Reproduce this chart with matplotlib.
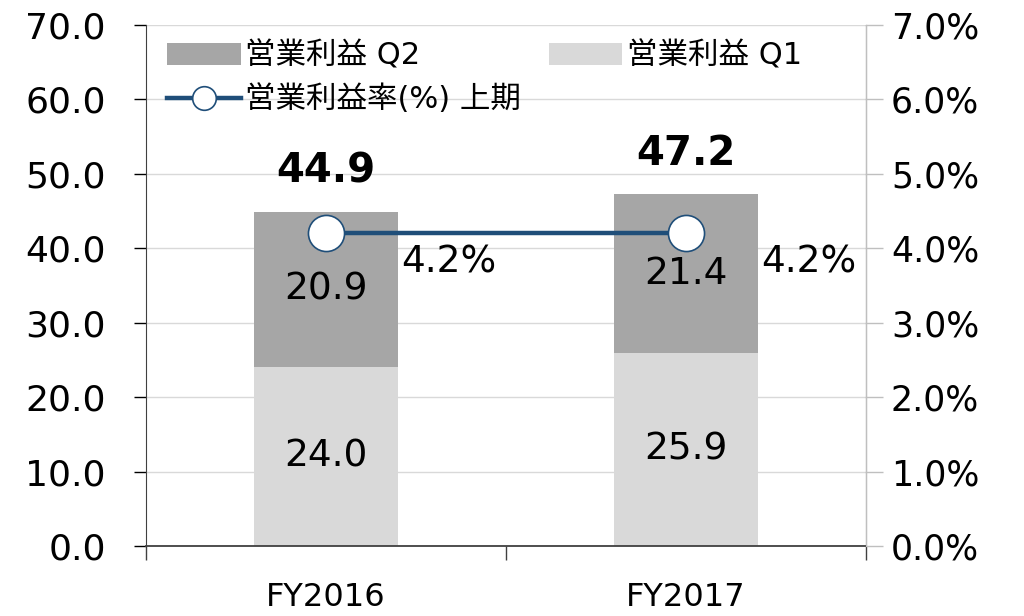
import numpy as np
import matplotlib
matplotlib.use("Agg")
import matplotlib.pyplot as plt
from matplotlib.ticker import FuncFormatter

plt.rcParams['font.family'] = ['DejaVu Sans', 'Noto Sans CJK JP']

# data
categories = ['FY2016', 'FY2017']
q1 = [24.0, 25.9]
q2 = [20.9, 21.4]
totals = [44.9, 47.2]
margin = [0.042, 0.042]   # 営業利益率 上期

q1_color = '#d9d9d9'
q2_color = '#a6a6a6'
line_color = '#1f4e79'

fig = plt.figure(figsize=(10.24, 6.16), dpi=100)
ax = fig.add_axes([0.1426, 0.1136, 0.7031, 0.8458])
ax2 = ax.twinx()

x = np.arange(len(categories))
w = 0.40
b1 = ax.bar(x, q1, w, color=q1_color, label='営業利益 Q1', zorder=2)
b2 = ax.bar(x, q2, w, bottom=q1, color=q2_color, label='営業利益 Q2', zorder=2)

for i in range(len(x)):
    ax.text(x[i], q1[i] / 2, f'{q1[i]:.1f}', ha='center', va='center', fontsize=27, zorder=3)
    ax.text(x[i], q1[i] + q2[i] / 2, f'{q2[i]:.1f}', ha='center', va='center', fontsize=27, zorder=3)
    ax.annotate(f'{totals[i]:.1f}', (x[i], totals[i]), xytext=(0, 29), textcoords='offset points',
                ha='center', va='center', fontsize=29, fontweight='bold')

ln, = ax2.plot(x, margin, color=line_color, lw=3.2, marker='o', markersize=26,
               markerfacecolor='white', markeredgecolor=line_color, markeredgewidth=1.2,
               label='営業利益率(%) 上期', zorder=5)
for i in range(len(x)):
    ax2.annotate(f'{margin[i] * 100:.1f}%', (x[i], margin[i]), xytext=(54, -21),
                 textcoords='offset points', ha='left', va='center', fontsize=27)

# axes
ax.set_xlim(-0.5, 1.5)
ax.set_ylim(0, 70)
ax.set_yticks(np.arange(0, 71, 10))
ax.yaxis.set_major_formatter(FuncFormatter(lambda v, p: f'{v:.1f}'))
ax2.set_ylim(0, 0.07)
ax2.set_yticks(np.arange(0, 0.071, 0.01))
ax2.yaxis.set_major_formatter(FuncFormatter(lambda v, p: f'{v * 100:.1f}%'))

ax.set_xticks([-0.5, 0.5, 1.5])
ax.set_xticklabels([])
ax.set_xticks(x, minor=True)
ax.set_xticklabels(categories, minor=True)
ax.tick_params(axis='x', which='major', length=10, width=1, color='#404040')
ax.tick_params(axis='x', which='minor', length=0, pad=26, labelsize=23)
ax.tick_params(axis='y', length=9, width=1, labelsize=26, pad=20)
ax2.tick_params(axis='y', length=12, width=1, labelsize=25, pad=6, color='#bfbfbf')

ax.grid(axis='y', color='#d9d9d9', lw=1, zorder=0)
ax.set_axisbelow(True)
for a in (ax, ax2):
    a.spines['top'].set_visible(False)
ax.spines['left'].set_color('#404040')
ax.spines['bottom'].set_color('#404040')
ax.spines['bottom'].set_linewidth(1.3)
ax2.spines['left'].set_visible(False)
ax2.spines['bottom'].set_visible(False)
ax2.spines['right'].set_color('#bfbfbf')

ax.set_zorder(ax2.get_zorder() - 1)
ax2.patch.set_visible(False)
ax.patch.set_visible(True)

leg = ax2.legend([b2, ln, b1], ['営業利益 Q2', '営業利益率(%) 上期', '営業利益 Q1'],
                 ncol=2, loc='upper left', bbox_to_anchor=(0.0, 1.01), frameon=False,
                 fontsize=22, handlelength=2.4, handletextpad=0.15, columnspacing=0.9,
                 labelspacing=0.45, borderaxespad=0.3)
for h in leg.legend_handles:
    if hasattr(h, 'set_markersize'):
        h.set_markersize(17)

fig.savefig('out.png', dpi=100)
